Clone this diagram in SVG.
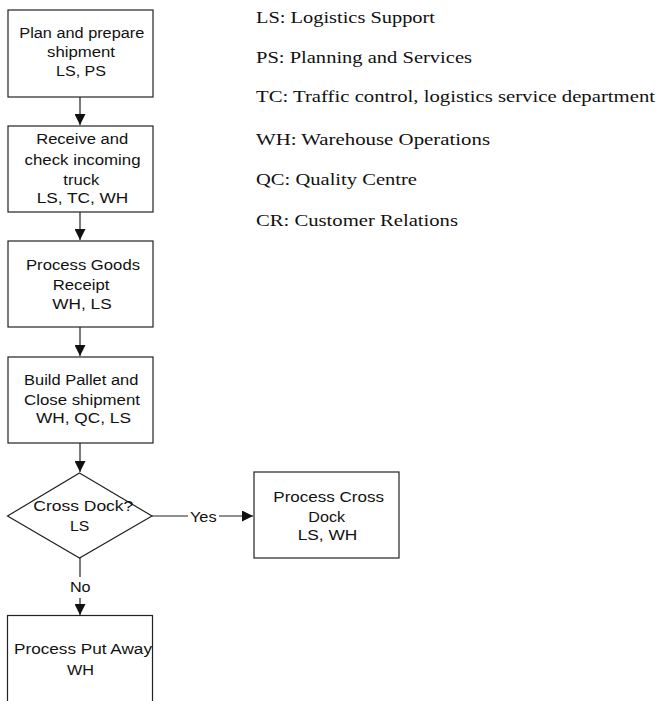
<svg xmlns="http://www.w3.org/2000/svg" width="658" height="701" viewBox="0 0 658 701">
  <style>
    .box { fill: #fff; stroke: #222; stroke-width: 1.2; }
    .lbl { font-family: "Liberation Sans", Arial, sans-serif; font-size: 14px; fill: #111; text-anchor: middle; }
    .legend { font-family: "Liberation Serif", "Times New Roman", serif; font-size: 16.5px; fill: #111; }
    .edge { fill: none; stroke: #222; stroke-width: 1.2; }
  </style>
  <defs>
    <marker id="arrow" markerUnits="userSpaceOnUse" markerWidth="11" markerHeight="11" viewBox="0 0 10 10" refX="10" refY="5" orient="auto">
      <path d="M0,0 L10,5 L0,10 z" fill="#111"/>
    </marker>
  </defs>

  <rect width="658" height="701" fill="#fff"/>

  <!-- connectors -->
  <g id="connectors">
    <line class="edge" x1="80" y1="97" x2="80" y2="125" marker-end="url(#arrow)"/>
    <line class="edge" x1="80" y1="212" x2="80" y2="240" marker-end="url(#arrow)"/>
    <line class="edge" x1="80" y1="327" x2="80" y2="356" marker-end="url(#arrow)"/>
    <line class="edge" x1="80" y1="443" x2="80" y2="472" marker-end="url(#arrow)"/>
    <line class="edge" x1="152" y1="516" x2="188" y2="516"/>
    <line class="edge" x1="219" y1="516" x2="253" y2="516" marker-end="url(#arrow)"/>
    <text class="lbl" x="203.3" y="521.5" textLength="26.7" lengthAdjust="spacingAndGlyphs">Yes</text>
    <line class="edge" x1="80" y1="558" x2="80" y2="577"/>
    <line class="edge" x1="80" y1="598" x2="80" y2="615" marker-end="url(#arrow)"/>
    <text class="lbl" x="80.3" y="592" textLength="20.7" lengthAdjust="spacingAndGlyphs">No</text>
  </g>

  <!-- process steps -->
  <g id="plan">
    <rect class="box" x="8" y="10" width="145" height="87"/>
    <text class="lbl" x="81.8" y="38.3" textLength="125" lengthAdjust="spacingAndGlyphs">Plan and prepare</text>
    <text class="lbl" x="81" y="57.3" textLength="68" lengthAdjust="spacingAndGlyphs">shipment</text>
    <text class="lbl" x="81" y="76.3" textLength="50" lengthAdjust="spacingAndGlyphs">LS, PS</text>
  </g>

  <g id="receive">
    <rect class="box" x="8" y="126" width="145" height="86"/>
    <text class="lbl" x="82.2" y="144.3" textLength="92" lengthAdjust="spacingAndGlyphs">Receive and</text>
    <text class="lbl" x="82.5" y="165" textLength="116" lengthAdjust="spacingAndGlyphs">check incoming</text>
    <text class="lbl" x="81.3" y="185" textLength="36" lengthAdjust="spacingAndGlyphs">truck</text>
    <text class="lbl" x="82.5" y="203.3" textLength="91.7" lengthAdjust="spacingAndGlyphs">LS, TC, WH</text>
  </g>

  <g id="goods-receipt">
    <rect class="box" x="8" y="241" width="145" height="86"/>
    <text class="lbl" x="83" y="270" textLength="114" lengthAdjust="spacingAndGlyphs">Process Goods</text>
    <text class="lbl" x="81" y="290" textLength="56.7" lengthAdjust="spacingAndGlyphs">Receipt</text>
    <text class="lbl" x="82" y="309" textLength="59.3" lengthAdjust="spacingAndGlyphs">WH, LS</text>
  </g>

  <g id="build-pallet">
    <rect class="box" x="8" y="357" width="145" height="86"/>
    <text class="lbl" x="81.2" y="385" textLength="114.3" lengthAdjust="spacingAndGlyphs">Build Pallet and</text>
    <text class="lbl" x="82" y="405" textLength="116" lengthAdjust="spacingAndGlyphs">Close shipment</text>
    <text class="lbl" x="83.5" y="423.3" textLength="95" lengthAdjust="spacingAndGlyphs">WH, QC, LS</text>
  </g>

  <g id="cross-dock-decision">
    <polygon class="box" points="79.5,473 152,516 79.5,558 7.5,516"/>
    <text class="lbl" x="83.3" y="510.7" textLength="100" lengthAdjust="spacingAndGlyphs">Cross Dock?</text>
    <text class="lbl" x="79.7" y="530.7" textLength="19.3" lengthAdjust="spacingAndGlyphs">LS</text>
  </g>

  <g id="cross-dock">
    <rect class="box" x="254" y="472" width="145" height="86"/>
    <text class="lbl" x="328.7" y="501.7" textLength="110.7" lengthAdjust="spacingAndGlyphs">Process Cross</text>
    <text class="lbl" x="326.7" y="521.7" textLength="36.7" lengthAdjust="spacingAndGlyphs">Dock</text>
    <text class="lbl" x="327.5" y="540" textLength="59.7" lengthAdjust="spacingAndGlyphs">LS, WH</text>
  </g>

  <g id="put-away">
    <rect class="box" x="7.5" y="615.5" width="145" height="100"/>
    <text class="lbl" x="83" y="654.3" textLength="138" lengthAdjust="spacingAndGlyphs">Process Put Away</text>
    <text class="lbl" x="80.5" y="675" textLength="27" lengthAdjust="spacingAndGlyphs">WH</text>
  </g>

  <!-- department key -->
  <g id="legend">
    <text class="legend" x="256" y="23.3" textLength="179" lengthAdjust="spacingAndGlyphs">LS: Logistics Support</text>
    <text class="legend" x="256" y="63.3" textLength="216" lengthAdjust="spacingAndGlyphs">PS: Planning and Services</text>
    <text class="legend" x="256" y="102" textLength="399" lengthAdjust="spacingAndGlyphs">TC: Traffic control, logistics service department</text>
    <text class="legend" x="256" y="144.5" textLength="234" lengthAdjust="spacingAndGlyphs">WH: Warehouse Operations</text>
    <text class="legend" x="256" y="185" textLength="161" lengthAdjust="spacingAndGlyphs">QC: Quality Centre</text>
    <text class="legend" x="256" y="225.5" textLength="202" lengthAdjust="spacingAndGlyphs">CR: Customer Relations</text>
  </g>
</svg>
